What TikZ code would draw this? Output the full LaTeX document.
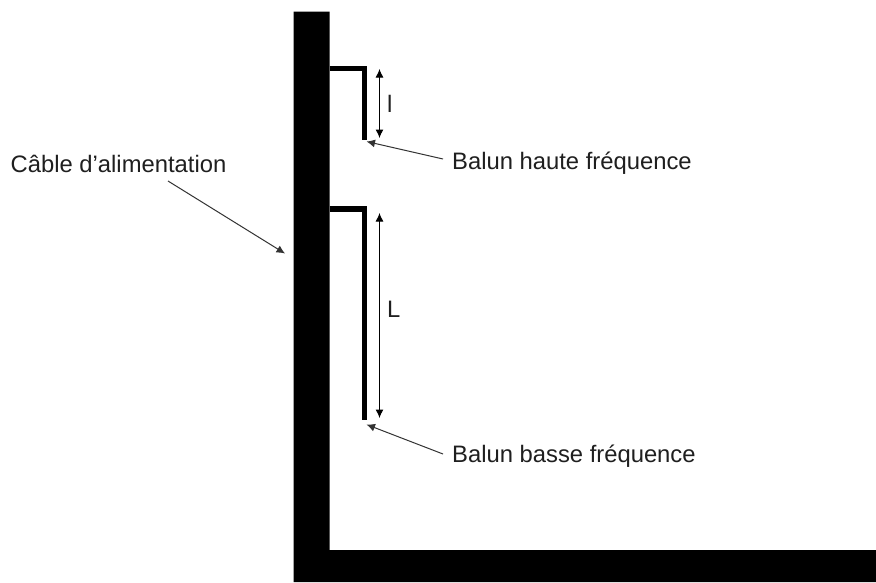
\documentclass[tikz,border=0pt]{standalone}
\usepackage{fontspec}
\setmainfont{Liberation Sans}
\usetikzlibrary{arrows.meta}
\tikzset{
  px/.style={x=1pt,y=-1pt},
  lbl/.style={inner sep=0pt,anchor=base west,text=black!88,font=\fontsize{23.8}{26}\selectfont},
  solidpart/.style={fill=black,draw=none},
  balunline/.style={draw=black,line width=5.4pt,line cap=butt,line join=miter},
  pointer/.style={draw=black!80,line width=1pt,-{Latex[length=8.5pt,width=8pt]}},
  dim/.style={draw=black,line width=1pt,{Latex[length=8.5pt,width=8pt]}-{Latex[length=8.5pt,width=8pt]}}
}
\begin{document}
\begin{tikzpicture}[px]
\useasboundingbox (0,0) rectangle (876,582);
\fill[white] (0,0) rectangle (876,582);
% cable
\path[solidpart] (293.5,11.5) -- (329.5,11.5) -- (329.5,550) -- (876,550) -- (876,582) -- (293.5,582) -- cycle;
% baluns
\draw[balunline] (329.5,68.5) -- (364.5,68.5) -- (364.5,140);
\draw[balunline] (329.5,209) -- (364.5,209) -- (364.5,419.5);
% labels
\node[lbl] (cable) at (10.5,172) {Câble d’alimentation};
\node[lbl] (high) at (452,169) {Balun haute fréquence};
\node[lbl] (low) at (452,462) {Balun basse fréquence};
\node[lbl] (lsmall) at (387,112.5) {l};
\node[lbl] (lbig) at (387,317) {L};
% connector ends
\coordinate (cableend) at (168,181);
\coordinate (cabletip) at (285,253.5);
\coordinate (hstart) at (443,159);
\coordinate (htip) at (366.5,141.5);
\coordinate (lstart) at (443,454);
\coordinate (ltip) at (366.5,424.5);
\coordinate (a1) at (379.5,69);
\coordinate (a2) at (379.5,138);
\coordinate (b1) at (379.5,213);
\coordinate (b2) at (379.5,418);
\draw[pointer] (cableend) -- (cabletip);
\draw[pointer] (hstart) -- (htip);
\draw[pointer] (lstart) -- (ltip);
\draw[dim] (a1) -- (a2);
\draw[dim] (b1) -- (b2);
\end{tikzpicture}
\end{document}
